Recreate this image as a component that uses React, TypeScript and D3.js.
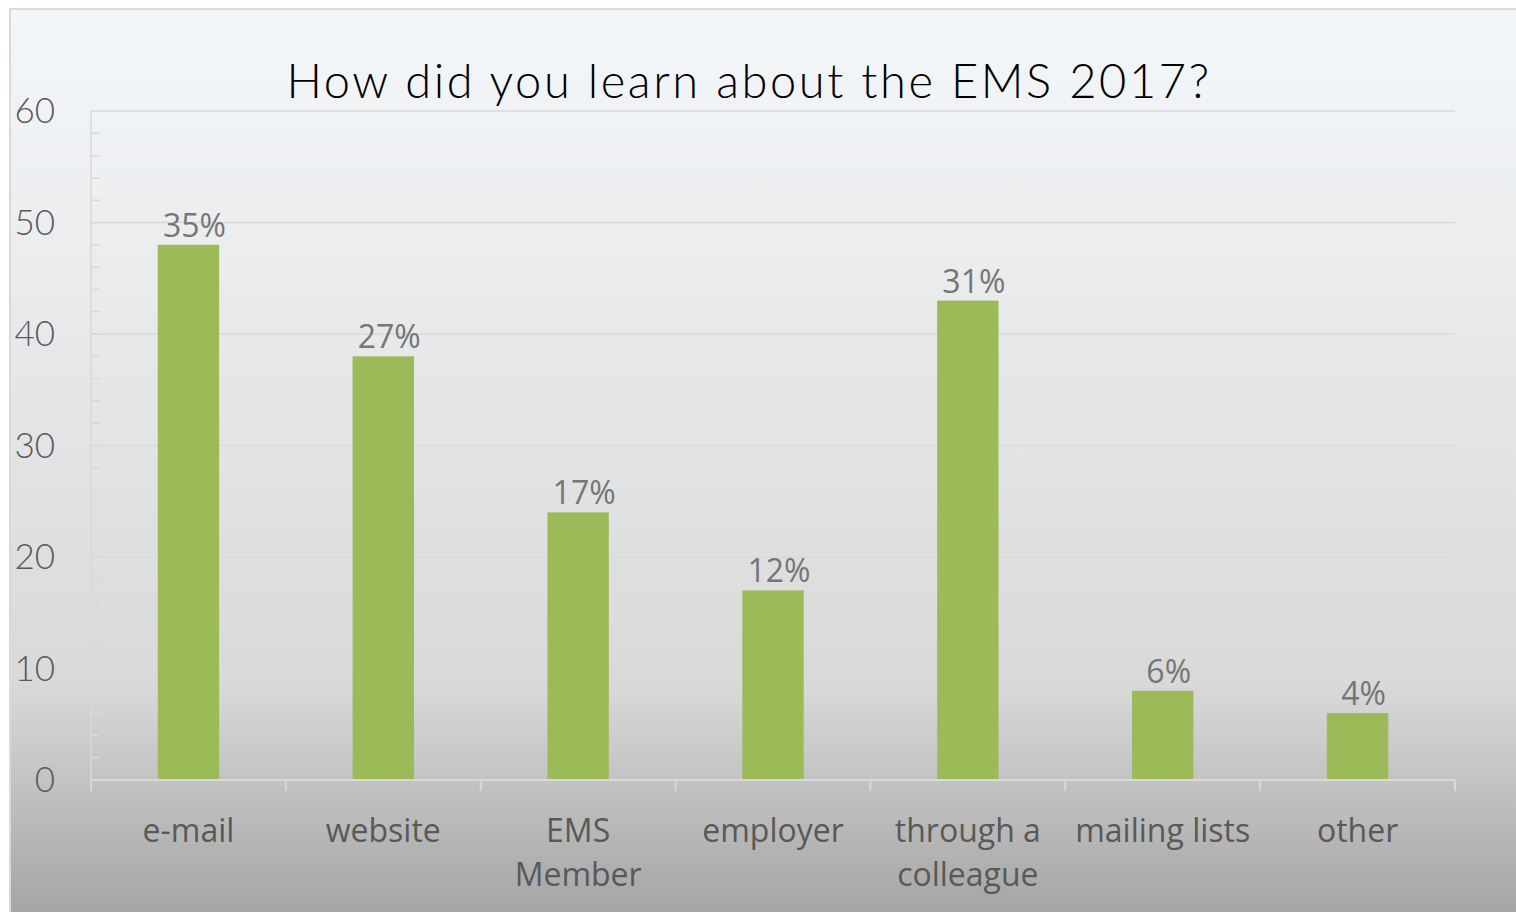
import * as React from 'react';
import * as d3 from 'd3';

const categories = ['e-mail', 'website', 'EMS\nMember', 'employer', 'through a\ncolleague', 'mailing lists', 'other'];
const counts = [48, 38, 24, 17, 43, 8, 6];
const shares = ['35%', '27%', '17%', '12%', '31%', '6%', '4%'];
const yTicks = [0, 10, 20, 30, 40, 50, 60];
const minorTicks = d3.range(0, 60, 2);

const W = 1516;
const H = 912;
const plot = { left: 91, right: 1455, top: 111, bottom: 780 };

const App = () => {
    const x = d3.scaleBand<number>()
        .domain(d3.range(categories.length))
        .range([plot.left, plot.right])
        .paddingInner(0.685)
        .paddingOuter(0.3425);
    const step = x.step();
    const y = d3.scaleLinear().domain([0, 60]).range([plot.bottom, plot.top]);
    const boundaries = d3.range(categories.length + 1).map(i => plot.left + i * step);
    const cx = (i: number) => (x(i) as number) + x.bandwidth() / 2;

    return (
        <svg width={W} height={H} style={{ position: 'fixed', left: 0, top: 0, display: 'block' }}>
            <defs>
                <linearGradient id="bg" x1="0" y1="0" x2="0" y2="1">
                    <stop offset="0" stopColor="#f4f7fa" />
                    <stop offset="0.74" stopColor="#d9d9d9" />
                    <stop offset="1" stopColor="#a3a3a3" />
                </linearGradient>
            </defs>
            <rect x={10} y={9} width={W} height={H} fill="url(#bg)" stroke="#d9d9d9" strokeWidth={2} />

            <text x={749} y={98} textAnchor="middle" fontFamily="Lato" fontWeight={300} fontSize={47}
                letterSpacing={2.6} fill="#000">
                How did you learn about the EMS 2017?
            </text>

            {yTicks.filter(t => t > 0).map(t => (
                <line key={'g' + t} x1={plot.left} x2={plot.right} y1={y(t)} y2={y(t)} stroke="#d9d9d9" strokeWidth={1.5} />
            ))}
            {minorTicks.map(t => (
                <line key={'m' + t} x1={plot.left} x2={plot.left + 9} y1={y(t)} y2={y(t)} stroke="#d9d9d9" strokeWidth={1.5} />
            ))}
            <line x1={plot.left} x2={plot.left} y1={plot.top} y2={plot.bottom + 11} stroke="#d9d9d9" strokeWidth={1.5} />

            {yTicks.map(t => (
                <text key={'y' + t} x={55} y={y(t) + 12} textAnchor="end" fontFamily="Lato" fontWeight={300} fontSize={35} fill="#595959">
                    {t}
                </text>
            ))}

            {counts.map((v, i) => (
                <rect key={'b' + i} x={x(i)} y={y(v)} width={x.bandwidth()} height={y(0) - y(v)} fill="#9bbb59" />
            ))}

            <line x1={plot.left} x2={plot.right} y1={plot.bottom} y2={plot.bottom} stroke="#d9d9d9" strokeWidth={2} />
            {boundaries.map((b, i) => (
                <line key={'t' + i} x1={b} x2={b} y1={plot.bottom} y2={plot.bottom + 11} stroke="#d9d9d9" strokeWidth={2} />
            ))}

            {shares.map((s, i) => (
                <text key={'p' + i} x={cx(i) + 6} y={y(counts[i]) - 8} textAnchor="middle"
                    fontFamily="Open Sans" fontSize={32} fill="#767676">
                    {s}
                </text>
            ))}

            {categories.map((c, i) => (
                <text key={'c' + i} x={cx(i)} y={842} textAnchor="middle"
                    fontFamily="Open Sans" fontSize={32} fill="#595959">
                    {c.split('\n').map((line, j) => (
                        <tspan key={j} x={cx(i)} dy={j === 0 ? 0 : 44}>{line}</tspan>
                    ))}
                </text>
            ))}
        </svg>
    );
};

export default App;
